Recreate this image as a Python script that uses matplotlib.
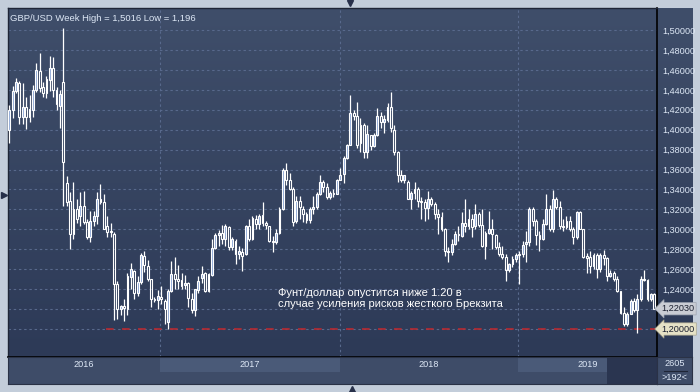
import numpy as np
import matplotlib
matplotlib.use("Agg")
import matplotlib.pyplot as plt
from matplotlib.colors import LinearSegmentedColormap
from matplotlib.lines import Line2D

plt.rcParams["font.family"] = ["Liberation Sans", "DejaVu Sans"]

# weekly GBP/USD candles (192 bars, Mar 2016 - Sep 2019)
opens = [1.400, 1.420, 1.439, 1.447, 1.413, 1.423, 1.413, 1.420, 1.440, 1.459,
         1.443, 1.437, 1.450, 1.462, 1.440, 1.424, 1.448, 1.347, 1.328, 1.295,
         1.320, 1.313, 1.323, 1.307, 1.292, 1.308, 1.313, 1.330, 1.327, 1.303,
         1.297, 1.295, 1.245, 1.220, 1.223, 1.220, 1.252, 1.258, 1.236, 1.247,
         1.273, 1.263, 1.250, 1.230, 1.229, 1.232, 1.228, 1.207, 1.238, 1.255,
         1.250, 1.249, 1.244, 1.246, 1.230, 1.219, 1.239, 1.251, 1.256, 1.238,
         1.254, 1.281, 1.294, 1.296, 1.290, 1.302, 1.282, 1.288, 1.275, 1.277,
         1.275, 1.303, 1.290, 1.310, 1.305, 1.314, 1.306, 1.303, 1.288, 1.287,
         1.296, 1.320, 1.360, 1.350, 1.340, 1.308, 1.328, 1.320, 1.315, 1.309,
         1.320, 1.322, 1.335, 1.348, 1.342, 1.332, 1.336, 1.335, 1.350, 1.356,
         1.372, 1.385, 1.417, 1.414, 1.387, 1.405, 1.378, 1.395, 1.384, 1.395,
         1.414, 1.408, 1.410, 1.423, 1.400, 1.378, 1.355, 1.350, 1.348, 1.330,
         1.336, 1.340, 1.328, 1.327, 1.321, 1.330, 1.325, 1.315, 1.312, 1.300,
         1.278, 1.277, 1.285, 1.295, 1.293, 1.306, 1.303, 1.310, 1.303, 1.315,
         1.304, 1.283, 1.296, 1.300, 1.294, 1.282, 1.275, 1.272, 1.259, 1.265,
         1.270, 1.274, 1.275, 1.285, 1.287, 1.320, 1.308, 1.294, 1.290, 1.305,
         1.320, 1.300, 1.330, 1.322, 1.303, 1.302, 1.308, 1.300, 1.292, 1.317,
         1.300, 1.273, 1.272, 1.263, 1.274, 1.260, 1.274, 1.271, 1.253, 1.256,
         1.250, 1.238, 1.216, 1.205, 1.215, 1.228, 1.219, 1.230, 1.250, 1.249,
         1.230, 1.235]
highs = [1.425, 1.444, 1.452, 1.449, 1.447, 1.433, 1.435, 1.445, 1.467, 1.477,
         1.448, 1.454, 1.474, 1.473, 1.443, 1.440, 1.5016, 1.354, 1.337, 1.348,
         1.330, 1.337, 1.338, 1.310, 1.318, 1.318, 1.337, 1.345, 1.335, 1.313,
         1.306, 1.297, 1.248, 1.224, 1.230, 1.256, 1.266, 1.259, 1.253, 1.276,
         1.278, 1.269, 1.250, 1.232, 1.239, 1.243, 1.230, 1.240, 1.268, 1.272,
         1.264, 1.256, 1.254, 1.247, 1.236, 1.240, 1.253, 1.263, 1.257, 1.256,
         1.290, 1.296, 1.299, 1.304, 1.305, 1.303, 1.292, 1.290, 1.283, 1.281,
         1.304, 1.310, 1.313, 1.314, 1.315, 1.327, 1.308, 1.303, 1.293, 1.300,
         1.322, 1.362, 1.367, 1.357, 1.342, 1.333, 1.333, 1.323, 1.317, 1.322,
         1.333, 1.337, 1.355, 1.350, 1.347, 1.338, 1.340, 1.351, 1.362, 1.374,
         1.386, 1.435, 1.420, 1.428, 1.412, 1.407, 1.405, 1.395, 1.397, 1.422,
         1.418, 1.415, 1.427, 1.438, 1.405, 1.379, 1.360, 1.355, 1.350, 1.338,
         1.348, 1.342, 1.332, 1.330, 1.338, 1.332, 1.327, 1.320, 1.317, 1.301,
         1.282, 1.290, 1.298, 1.303, 1.317, 1.330, 1.320, 1.315, 1.325, 1.317,
         1.320, 1.298, 1.318, 1.310, 1.295, 1.287, 1.283, 1.275, 1.266, 1.273,
         1.276, 1.278, 1.288, 1.298, 1.322, 1.322, 1.310, 1.298, 1.310, 1.335,
         1.324, 1.339, 1.332, 1.328, 1.310, 1.313, 1.313, 1.302, 1.318, 1.318,
         1.300, 1.276, 1.278, 1.276, 1.276, 1.276, 1.279, 1.272, 1.259, 1.258,
         1.253, 1.238, 1.222, 1.217, 1.230, 1.231, 1.235, 1.253, 1.259, 1.250,
         1.236, 1.236]
lows = [1.387, 1.412, 1.437, 1.406, 1.406, 1.401, 1.408, 1.413, 1.438, 1.438,
        1.433, 1.432, 1.439, 1.433, 1.420, 1.402, 1.323, 1.323, 1.280, 1.290,
        1.306, 1.303, 1.305, 1.290, 1.287, 1.303, 1.305, 1.325, 1.300, 1.292,
        1.292, 1.209, 1.210, 1.214, 1.208, 1.214, 1.240, 1.230, 1.233, 1.245,
        1.257, 1.248, 1.222, 1.227, 1.220, 1.225, 1.205, 1.200, 1.237, 1.240,
        1.240, 1.240, 1.240, 1.222, 1.216, 1.213, 1.236, 1.246, 1.237, 1.237,
        1.253, 1.280, 1.283, 1.285, 1.283, 1.279, 1.279, 1.265, 1.270, 1.258,
        1.274, 1.288, 1.289, 1.300, 1.300, 1.303, 1.300, 1.287, 1.277, 1.285,
        1.295, 1.319, 1.344, 1.339, 1.303, 1.306, 1.310, 1.307, 1.306, 1.306,
        1.315, 1.320, 1.334, 1.337, 1.330, 1.330, 1.332, 1.335, 1.350, 1.346,
        1.371, 1.385, 1.410, 1.382, 1.378, 1.372, 1.372, 1.380, 1.383, 1.394,
        1.402, 1.397, 1.408, 1.398, 1.375, 1.348, 1.348, 1.346, 1.330, 1.320,
        1.330, 1.322, 1.310, 1.308, 1.310, 1.323, 1.310, 1.295, 1.298, 1.273,
        1.267, 1.274, 1.284, 1.288, 1.292, 1.297, 1.300, 1.292, 1.300, 1.302,
        1.282, 1.270, 1.295, 1.280, 1.280, 1.273, 1.270, 1.248, 1.257, 1.262,
        1.267, 1.245, 1.272, 1.267, 1.283, 1.303, 1.284, 1.278, 1.289, 1.304,
        1.298, 1.297, 1.320, 1.300, 1.298, 1.300, 1.298, 1.285, 1.290, 1.300,
        1.271, 1.256, 1.256, 1.260, 1.251, 1.257, 1.264, 1.248, 1.252, 1.248,
        1.237, 1.215, 1.203, 1.203, 1.215, 1.217, 1.196, 1.228, 1.248, 1.228,
        1.228, 1.221]
closes = [1.420, 1.439, 1.448, 1.413, 1.423, 1.413, 1.421, 1.440, 1.460, 1.442,
          1.437, 1.451, 1.462, 1.440, 1.426, 1.436, 1.368, 1.327, 1.295, 1.320,
          1.310, 1.323, 1.307, 1.292, 1.308, 1.313, 1.330, 1.327, 1.300, 1.297,
          1.298, 1.245, 1.220, 1.223, 1.221, 1.253, 1.260, 1.236, 1.247, 1.274,
          1.264, 1.250, 1.230, 1.229, 1.233, 1.230, 1.220, 1.238, 1.255, 1.250,
          1.248, 1.243, 1.246, 1.231, 1.219, 1.240, 1.248, 1.255, 1.238, 1.255,
          1.281, 1.294, 1.296, 1.290, 1.303, 1.282, 1.290, 1.275, 1.278, 1.273,
          1.303, 1.290, 1.311, 1.305, 1.313, 1.306, 1.304, 1.288, 1.287, 1.296,
          1.320, 1.360, 1.350, 1.340, 1.307, 1.328, 1.322, 1.315, 1.309, 1.320,
          1.322, 1.335, 1.348, 1.342, 1.332, 1.336, 1.335, 1.350, 1.355, 1.372,
          1.385, 1.417, 1.414, 1.385, 1.405, 1.378, 1.396, 1.384, 1.395, 1.414,
          1.408, 1.411, 1.423, 1.402, 1.378, 1.355, 1.350, 1.355, 1.330, 1.336,
          1.340, 1.328, 1.327, 1.321, 1.330, 1.325, 1.315, 1.312, 1.300, 1.278,
          1.277, 1.285, 1.295, 1.294, 1.306, 1.303, 1.310, 1.302, 1.315, 1.304,
          1.283, 1.296, 1.300, 1.295, 1.282, 1.275, 1.272, 1.259, 1.265, 1.270,
          1.274, 1.275, 1.284, 1.287, 1.320, 1.308, 1.294, 1.290, 1.305, 1.320,
          1.300, 1.330, 1.322, 1.303, 1.302, 1.308, 1.300, 1.292, 1.317, 1.300,
          1.272, 1.271, 1.263, 1.274, 1.260, 1.274, 1.271, 1.253, 1.256, 1.250,
          1.238, 1.216, 1.205, 1.215, 1.228, 1.219, 1.230, 1.250, 1.249, 1.230,
          1.235, 1.2203]

years = ["2016", "2017", "2018", "2019"]
year_edges = [-0.38, 44.6, 97.8, 150.6, 191.8]   # week index where each year starts
price_ticks = [1.24, 1.26, 1.28, 1.30, 1.32, 1.34, 1.36, 1.38, 1.40, 1.42,
               1.44, 1.46, 1.48, 1.50]
grid_levels = [1.20, 1.22] + price_ticks
last_price = 1.2203
target_level = 1.20
title = "GBP/USD Week High = 1,5016 Low = 1,196"
note = "Фунт/доллар опустится ниже 1.20 в\nслучае усиления рисков жесткого Брекзита"

W, H = 700, 392
X0, X1 = -0.38, 191.8
Y0, Y1 = 1.1719, 1.5221

BG_TOP, BG_BOT = "#3f4e6a", "#2d3a57"
GRID = "#58698c"
TXT = "#dde7f5"
UP_FILL = "#8ea8d6"

fig = plt.figure(figsize=(W / 100, H / 100), dpi=100, facecolor="#c3cdda")


def fax(x0, y0, x1, y1):
    """axes from pixel box (top-left origin)"""
    return fig.add_axes([x0 / W, 1 - y1 / H, (x1 - x0) / W, (y1 - y0) / H])


grad = LinearSegmentedColormap.from_list("bg", [BG_BOT, BG_TOP])
gimg = np.linspace(0, 1, 256).reshape(-1, 1)

# right price panel
rp = fax(657, 8, 692, 357)
rp.imshow(gimg, cmap=grad, origin="lower", aspect="auto", extent=[0, 1, 0, 1])
rp.set_axis_off()

# main chart
ax = fax(8, 8, 657, 357)
ax.imshow(gimg, cmap=grad, origin="lower", aspect="auto",
          extent=[X0, X1, Y0, Y1], zorder=0)
ax.set_xlim(X0, X1)
ax.set_ylim(Y0, Y1)
ax.hlines(grid_levels, X0, X1, colors=GRID, lw=0.8, linestyles=(0, (2.2, 2.5)), zorder=1)
ax.vlines(year_edges[1:-1], Y0, Y1, colors=GRID, lw=0.8, linestyles=(0, (2.2, 2.5)), zorder=1)
ax.hlines(target_level, 28.6, X1, colors="#b82a31", lw=1.2, linestyles=(0, (4.6, 5.0)), zorder=2)

o = np.array(opens); h = np.array(highs); l = np.array(lows); c = np.array(closes)
idx = np.arange(len(c))
top = np.maximum(o, c)
bot = np.minimum(o, c)
ax.vlines(idx, top, np.maximum(h, top), colors="white", lw=0.9, zorder=3)
ax.vlines(idx, np.minimum(l, bot), bot, colors="white", lw=0.9, zorder=3)
up = c >= o
ax.bar(idx[up], np.maximum(top - bot, 0.0007)[up], bottom=bot[up], width=0.55,
       color=UP_FILL, edgecolor="white", linewidth=0.8, zorder=4)
ax.bar(idx[~up], np.maximum(top - bot, 0.0007)[~up], bottom=bot[~up], width=0.55,
       color="none", edgecolor="white", linewidth=0.8, zorder=4)

ax.text(0.003, 0.983, title, transform=ax.transAxes, ha="left", va="top",
        color=TXT, fontsize=6.8, zorder=6)
ax.text(79.5, 1.2305, note, ha="left", va="center", color="white",
        fontsize=8.0, linespacing=1.05, zorder=6)

ax.set_xticks([])
ax.yaxis.tick_right()
ax.set_yticks(price_ticks)
ax.set_yticklabels([f"{v:.5f}".replace(".", ",") for v in price_ticks])
ax.tick_params(axis="y", length=0, pad=4, labelsize=6.6, labelcolor=TXT)
for s in ["left", "top"]:
    ax.spines[s].set_color("#1e2536")
    ax.spines[s].set_linewidth(1.0)
for s in ["right", "bottom"]:
    ax.spines[s].set_color("black")
    ax.spines[s].set_linewidth(1.2)

# current price / target level boxes
ax.text(X1 + 1.3, last_price, f"{last_price:.5f}".replace(".", ","), ha="left",
        va="center", fontsize=6.6, color="#1b2030", clip_on=False, zorder=7,
        bbox=dict(boxstyle="larrow,pad=0.18", fc="#c9ccd3", ec="#9ca3b0", lw=0.5))
ax.text(X1 + 1.3, target_level, f"{target_level:.5f}".replace(".", ","), ha="left",
        va="center", fontsize=6.6, color="#1b2030", clip_on=False, zorder=7,
        bbox=dict(boxstyle="larrow,pad=0.18", fc="#e6e2c6", ec="#a8a48c", lw=0.5))

# time axis band
tb = fax(8, 357, 657, 384)
tb.set_facecolor("#3e4c68")
tb.set_xlim(X0, X1)
tb.set_ylim(0, 27)
for k in (1, 3):
    right = min(year_edges[k + 1], 177.0)
    tb.axvspan(year_edges[k], right, 0.44, 0.96, color="#4a5a78", lw=0)
tb.axvspan(177.0, X1, 0, 1, color="#2a3550", lw=0)
for k, yr in enumerate(years):
    tb.text((year_edges[k] + year_edges[k + 1]) / 2, 19.5, yr, ha="center",
            va="center", color=TXT, fontsize=6.6)
tb.set_xticks([]); tb.set_yticks([])
for s in tb.spines.values():
    s.set_color("#2a3246")
    s.set_linewidth(0.8)

# bar count box
cb = fax(657, 357, 692, 384)
cb.set_facecolor("#3e4c68")
cb.set_xlim(0, 1); cb.set_ylim(0, 1)
cb.text(0.5, 0.75, "2605", ha="center", va="center", color=TXT, fontsize=6.6)
cb.plot([0.2, 0.85], [0.5, 0.5], color="#1e2536", lw=0.8)
cb.text(0.5, 0.25, ">192<", ha="center", va="center", color=TXT, fontsize=6.6)
cb.set_xticks([]); cb.set_yticks([])
for s in cb.spines.values():
    s.set_color("#2a3246")
    s.set_linewidth(0.8)

# scroll markers on the outer frame
for (px, py, m) in [(350, 3, "v"), (352, 389, "^"), (4, 195, ">")]:
    fig.add_artist(Line2D([px / W], [1 - py / H], marker=m, markersize=5,
                          color="#27304a", transform=fig.transFigure))

fig.savefig("out.png", dpi=100, facecolor=fig.get_facecolor())
